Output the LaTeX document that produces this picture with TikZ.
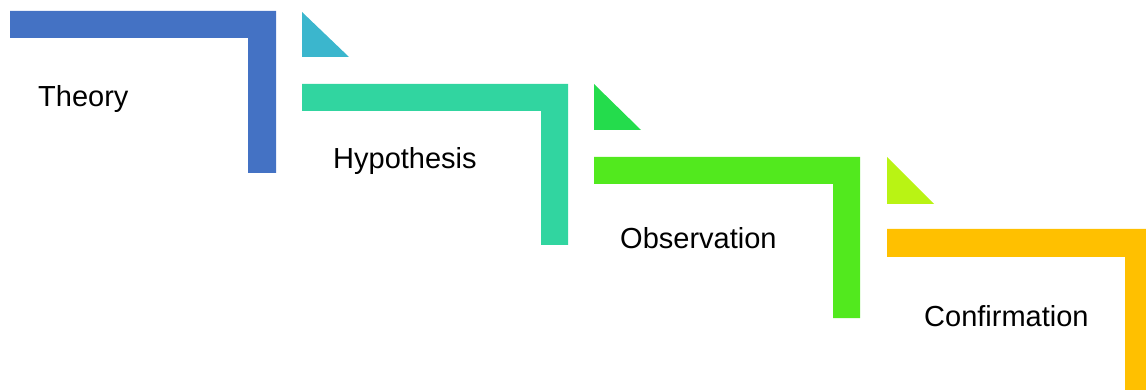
\documentclass[tikz,border=0pt]{standalone}
\usepackage{fontspec}
\setmainfont{Liberation Sans}
\definecolor{stepblue}{RGB}{68,114,196}
\definecolor{tealtri}{RGB}{59,182,205}
\definecolor{stepteal}{RGB}{49,213,160}
\definecolor{greentri}{RGB}{36,220,76}
\definecolor{stepgreen}{RGB}{82,233,30}
\definecolor{limetri}{RGB}{185,243,20}
\definecolor{steporange}{RGB}{255,192,0}
\begin{document}
\begin{tikzpicture}[x=1pt,y=-1pt,
    label/.style={anchor=base west, inner sep=0pt, font=\fontsize{29}{34}\selectfont}]
    \useasboundingbox (0,0) rectangle (1146,390);

    % steps
    \fill[stepblue] (10,11) -- (276,11) -- (276,173) -- (248,173) -- (248,38) -- (10,38) -- cycle;
    \fill[stepteal] (302,84) -- (568,84) -- (568,245) -- (541,245) -- (541,111) -- (302,111) -- cycle;
    \fill[stepgreen] (594,157) -- (860,157) -- (860,318) -- (833,318) -- (833,184) -- (594,184) -- cycle;
    \fill[steporange] (887,229) -- (1146,229) -- (1146,390) -- (1125,390) -- (1125,257) -- (887,257) -- cycle;

    % corner triangles
    \fill[tealtri] (302,12) -- (349,57) -- (302,57) -- cycle;
    \fill[greentri] (594,84) -- (641,130) -- (594,130) -- cycle;
    \fill[limetri] (887,157) -- (934,204) -- (887,204) -- cycle;

    \node[label] (theory) at (38,107) {Theory};
    \node[label] (hypothesis) at (333,169) {Hypothesis};
    \node[label] (observation) at (620,248) {Observation};
    \node[label] (confirmation) at (924,326) {Confirmation};
\end{tikzpicture}
\end{document}
